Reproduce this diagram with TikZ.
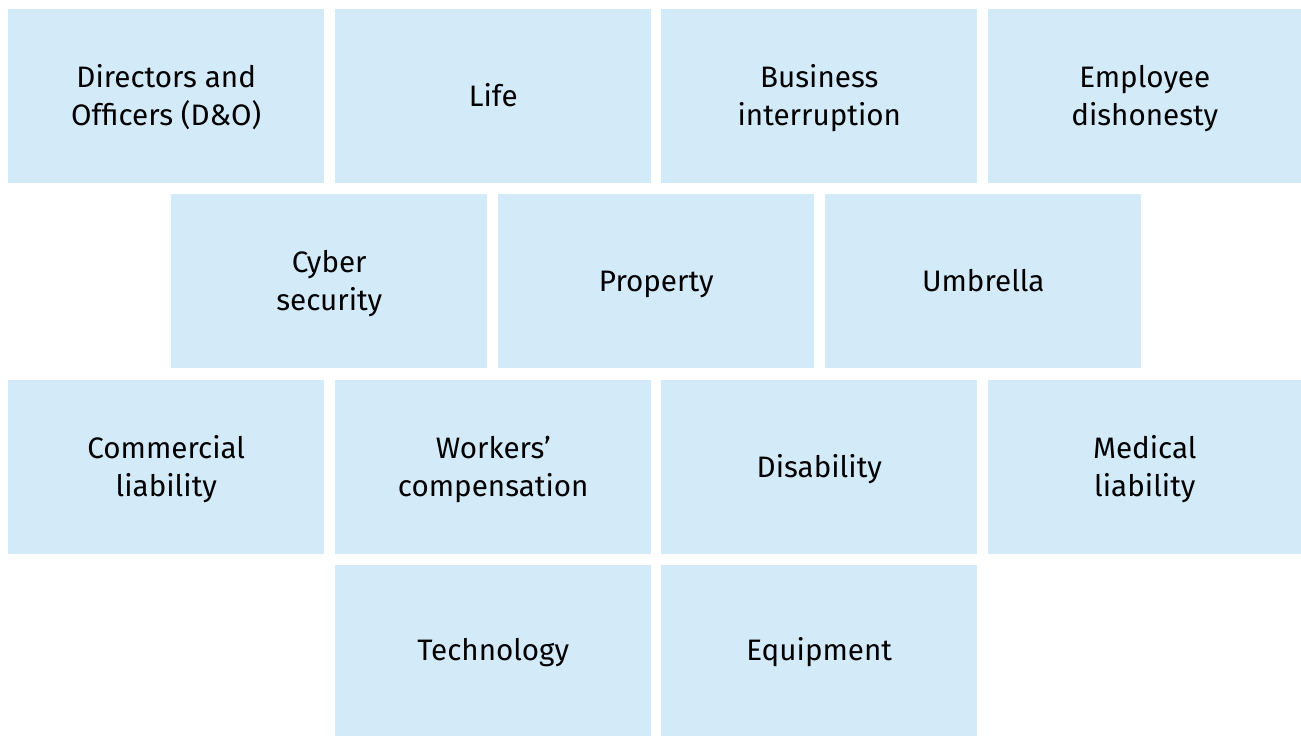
\documentclass[tikz,border=0pt]{standalone}
\usepackage{fontspec}
\setmainfont{Fira Sans}
\definecolor{boxblue}{RGB}{211,234,248}
\newcommand\tilestrut{\vrule width 0pt height 20pt depth 5pt\relax}
\tikzset{
  tile/.style={fill=boxblue, draw=none, minimum width=237pt, minimum height=130.5pt,
    inner sep=0pt, align=center, text=black,
    font=\fontsize{22.2pt}{28.5pt}\selectfont, anchor=north west}
}
\begin{document}
\begin{tikzpicture}[x=0.75pt,y=-0.75pt]
\path[use as bounding box] (0,0) rectangle (1301,736);
\node[tile] (do) at (8,9) {\tilestrut Directors and\\\tilestrut Officers (D\&O)};
\node[tile] (life) at (335,9) {\tilestrut Life};
\node[tile] (bi) at (661,9) {\tilestrut Business\\\tilestrut interruption};
\node[tile, minimum width=234.75pt] (ed) at (988,9) {\tilestrut Employee\\\tilestrut dishonesty};
\node[tile] (cyber) at (171,194) {\tilestrut Cyber\\\tilestrut security};
\node[tile] (prop) at (498,194) {\tilestrut Property};
\node[tile] (umb) at (825,194) {\tilestrut Umbrella};
\node[tile] (cl) at (8,380) {\tilestrut Commercial\\\tilestrut liability};
\node[tile] (wc) at (335,380) {\tilestrut Workers’\\\tilestrut compensation};
\node[tile] (dis) at (661,380) {\tilestrut Disability};
\node[tile, minimum width=234.75pt] (ml) at (988,380) {\tilestrut Medical\\\tilestrut liability};
\node[tile, minimum height=128.25pt] (tech) at (335,565) {\tilestrut Technology};
\node[tile, minimum height=128.25pt] (eq) at (661,565) {\tilestrut Equipment};
\end{tikzpicture}
\end{document}
